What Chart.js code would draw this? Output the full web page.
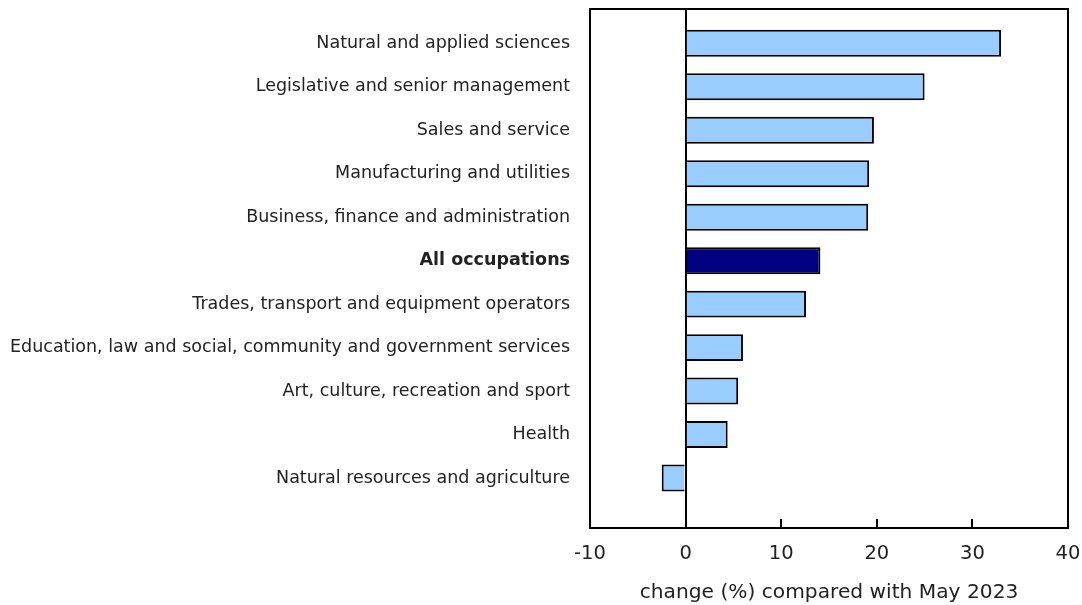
<!DOCTYPE html>
<html>
<head>
<meta charset="utf-8">
<script src="https://cdn.jsdelivr.net/npm/chart.js@4.4.1/dist/chart.umd.min.js"></script>
<style>
    html, body { margin: 0; padding: 0; background: #fff; }
    #wrap { width: 1082px; height: 605px; }
</style>
</head>
<body>
<div id="wrap"><canvas id="graph"></canvas></div>
<script>
const categories = [
    'Natural and applied sciences',
    'Legislative and senior management',
    'Sales and service',
    'Manufacturing and utilities',
    'Business, finance and administration',
    'All occupations',
    'Trades, transport and equipment operators',
    'Education, law and social, community and government services',
    'Art, culture, recreation and sport',
    'Health',
    'Natural resources and agriculture'
];
const changes = [33.0, 25.0, 19.7, 19.2, 19.1, 14.1, 12.6, 6.0, 5.5, 4.4, -2.5];
const xTicks = [-10, 0, 10, 20, 30, 40];
const highlight = 'All occupations';

const graph = document.getElementById('graph').getContext('2d');
const fontFamily = '"DejaVu Sans", Verdana, sans-serif';

// draws the box round the plot area
const frame = {
    id: 'frame',
    afterDraw(chart) {
        const a = chart.chartArea;
        const c = chart.ctx;
        c.save();
        c.strokeStyle = '#000';
        c.lineWidth = 2;
        c.strokeRect(a.left, a.top, a.right - a.left, a.bottom - a.top);
        c.restore();
    }
};

new Chart(graph, {
    type: 'bar',
    data: {
        datasets: [{
            data: changes.map((v, i) => ({ x: v, y: i })),
            backgroundColor: categories.map(c => c === highlight ? '#000080' : '#99ccff'),
            borderColor: '#000',
            borderWidth: 2,
            barPercentage: 0.62,
            categoryPercentage: 1
        }]
    },
    options: {
        indexAxis: 'y',
        responsive: true,
        maintainAspectRatio: false,
        animation: false,
        layout: { padding: { left: 10, right: 14, top: 9 } },
        plugins: { legend: { display: false }, tooltip: { enabled: false } },
        scales: {
            x: {
                type: 'linear',
                min: -10,
                max: 40,
                afterBuildTicks: s => { s.ticks = xTicks.map(v => ({ value: v })); },
                afterFit: s => {
                    s.height = 77;
                    s.paddingLeft = 0;
                    s.paddingRight = 0;
                },
                grid: {
                    drawOnChartArea: true,
                    drawTicks: true,
                    tickLength: -9,
                    color: ctx => ctx.tick && ctx.tick.value === 0 ? '#000' : 'rgba(0,0,0,0)',
                    lineWidth: 2,
                    tickColor: '#000',
                    tickWidth: 2
                },
                border: { display: true, color: '#000', width: 2 },
                ticks: {
                    color: '#222',
                    padding: 23,
                    font: { family: fontFamily, size: 19.5 }
                },
                title: {
                    display: true,
                    text: 'change (%) compared with May 2023',
                    color: '#222',
                    padding: { top: 4, bottom: 0 },
                    font: { family: fontFamily, size: 20.2 }
                }
            },
            y: {
                type: 'linear',
                reverse: true,
                offset: false,
                min: -0.79,
                max: 11.15,
                afterBuildTicks: s => { s.ticks = categories.map((c, i) => ({ value: i })); },
                afterFit: s => {
                    s.width = 580;
                    s.paddingTop = 0;
                    s.paddingBottom = 0;
                },
                grid: { display: false, drawTicks: false },
                border: { display: false },
                ticks: {
                    color: '#222',
                    padding: 20,
                    autoSkip: false,
                    callback: v => categories[v],
                    font: ctx => ({
                        family: fontFamily,
                        size: 17.5,
                        weight: ctx.tick && categories[ctx.tick.value] === highlight ? 'bold' : 'normal'
                    })
                }
            }
        }
    },
    plugins: [frame]
});
</script>
</body>
</html>
